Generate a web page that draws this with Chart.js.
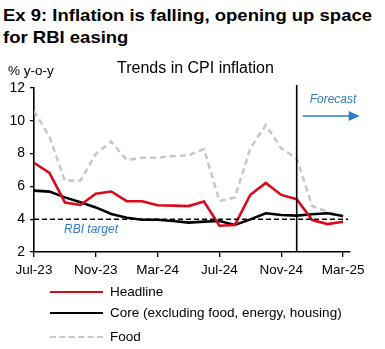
<!DOCTYPE html>
<html>
<head>
<meta charset="utf-8">
<script src="https://cdn.jsdelivr.net/npm/chart.js@4.4.0/dist/chart.umd.min.js"></script>
<style>
  html, body { margin: 0; padding: 0; background: #fff; }
  body { width: 385px; height: 349px; position: relative; overflow: hidden;
         font-family: "Liberation Sans", Arial, sans-serif; color: #000; }
  #heading { position: absolute; left: 3px; top: 4.6px; font-weight: bold;
             font-size: 18.5px; line-height: 23.7px; white-space: nowrap;
             transform: scale(1, 0.9); transform-origin: 0 0; }
  #wrap { position: absolute; left: 0; top: 0; width: 385px; height: 349px; }
  .leg { position: absolute; left: 50px; height: 20px; font-size: 13.5px;
         line-height: 20px; white-space: nowrap; }
  .leg .swatch { position: absolute; left: 0; top: 9px; width: 53px; height: 0; }
  .leg .txt { position: absolute; left: 60px; top: 0; }
</style>
</head>
<body>
<div id="heading">Ex 9: Inflation is falling, opening up space<br>for RBI easing</div>
<div id="wrap"><canvas id="c" width="385" height="349"></canvas></div>
<div id="legend"></div>
<script>
// Monthly CPI inflation, % y-o-y (Jan-25 onward is forecast)
const months = ['Jul-23','Aug-23','Sep-23','Oct-23','Nov-23','Dec-23','Jan-24','Feb-24',
                'Mar-24','Apr-24','May-24','Jun-24','Jul-24','Aug-24','Sep-24','Oct-24',
                'Nov-24','Dec-24','Jan-25','Feb-25','Mar-25'];
const headline = [7.44, 6.83, 5.02, 4.87, 5.55, 5.69, 5.10, 5.09, 4.85, 4.83, 4.80,
                  5.08, 3.60, 3.65, 5.49, 6.21, 5.48, 5.22, 3.95, 3.70, 3.85];
const core = [5.74, 5.68, 5.33, 5.03, 4.72, 4.32, 4.09, 3.97, 3.97, 3.89, 3.79,
              3.85, 3.89, 3.65, 3.99, 4.36, 4.26, 4.22, 4.30, 4.36, 4.20];
const food = [10.6, 9.03, 6.35, 6.35, 7.98, 8.73, 7.61, 7.75, 7.75, 7.85, 7.89,
              8.28, 5.11, 5.33, 8.32, 9.74, 8.32, 7.71, 4.80, 4.46, 4.15];
const yTicks = [2, 4, 6, 8, 10, 12];
const xTickMonths = ['Jul-23','Nov-23','Mar-24','Jul-24','Nov-24','Mar-25'];
const rbiTarget = 4;
const forecastFrom = 'Dec-24';

const FONT = '"Liberation Sans", Arial, sans-serif';
const RED = '#DA0A1E', BLACK = '#000000', GREY = '#C8C8C8', BLUE = '#2F7DC4';

const toPoints = arr => arr.map((v, i) => ({ x: i, y: v }));

const series = [
  { label: 'Headline', data: headline, color: RED, dash: [] },
  { label: 'Core (excluding food, energy, housing)', data: core, color: BLACK, dash: [] },
  { label: 'Food', data: food, color: GREY, dash: [6, 4] }
];

// Annotations: axis caption, chart title, RBI target, forecast divider and arrow
const annotations = {
  id: 'annotations',
  afterDatasetsDraw(chart) {
    const { ctx, chartArea: a, scales: { x, y } } = chart;
    ctx.save();
    // RBI target line
    const ty = y.getPixelForValue(rbiTarget);
    ctx.strokeStyle = '#000'; ctx.lineWidth = 1.6; ctx.setLineDash([5, 3]);
    ctx.beginPath(); ctx.moveTo(a.left, ty); ctx.lineTo(a.right - 2, ty); ctx.stroke();
    ctx.setLineDash([]);
    // forecast divider
    const fx = x.getPixelForValue(months.indexOf(forecastFrom));
    ctx.lineWidth = 1.6;
    ctx.beginPath(); ctx.moveTo(fx, a.top - 3); ctx.lineTo(fx, a.bottom); ctx.stroke();
    // labels
    ctx.fillStyle = BLUE; ctx.font = 'italic 12px ' + FONT;
    ctx.textBaseline = 'middle'; ctx.textAlign = 'left';
    ctx.fillText('RBI target', 64, ty + 10);
    ctx.fillText('Forecast', fx + 13, 100);
    // arrow
    ctx.strokeStyle = BLUE; ctx.lineWidth = 1.6;
    ctx.beginPath(); ctx.moveTo(fx + 6, 116); ctx.lineTo(fx + 54, 116); ctx.stroke();
    ctx.beginPath(); ctx.moveTo(fx + 63, 116); ctx.lineTo(fx + 52, 111); ctx.lineTo(fx + 52, 121);
    ctx.closePath(); ctx.fill();
    // captions
    ctx.fillStyle = '#000';
    ctx.font = '13.5px ' + FONT;
    ctx.fillText('% y-o-y', 8, 71);
    ctx.font = '16px ' + FONT;
    ctx.fillText('Trends in CPI inflation', 117, 69);
    ctx.restore();
  }
};

new Chart(document.getElementById('c'), {
  type: 'line',
  data: {
    datasets: series.map(s => ({
      label: s.label,
      data: toPoints(s.data),
      borderColor: s.color,
      borderWidth: 2.6,
      borderDash: s.dash,
      pointRadius: 0,
      tension: 0,
      fill: false
    }))
  },
  options: {
    responsive: false,
    animation: false,
    events: [],
    layout: { padding: { left: 0, top: 88, right: 35, bottom: 67 } },
    plugins: { legend: { display: false }, tooltip: { enabled: false } },
    scales: {
      x: {
        type: 'linear',
        min: 0,
        max: months.length - 1 + 0.45,
        afterFit: s => { s.height = 30; },
        afterBuildTicks: s => {
          s.ticks = xTickMonths.map(m => ({ value: months.indexOf(m) }));
        },
        ticks: {
          callback: v => months[v],
          font: { family: FONT, size: 13.5 },
          color: '#000',
          padding: 5,
          maxRotation: 0,
          autoSkip: false
        },
        grid: { drawOnChartArea: false, drawTicks: true, tickLength: 5, color: '#000', lineWidth: 1.3 },
        border: { color: '#000', width: 1.6 }
      },
      y: {
        min: 2,
        max: 12,
        afterFit: s => { s.width = 34; },
        afterBuildTicks: s => { s.ticks = yTicks.map(v => ({ value: v })); },
        ticks: {
          font: { family: FONT, size: 14 },
          color: '#000',
          padding: 5
        },
        grid: { drawOnChartArea: false, drawTicks: true, tickLength: 4, color: '#000', lineWidth: 1.3 },
        border: { color: '#000', width: 1.6 }
      }
    }
  },
  plugins: [annotations]
});

// Legend, one series per row
const legend = document.getElementById('legend');
const rowTops = [282, 303, 327];
series.forEach((s, i) => {
  const row = document.createElement('div');
  row.className = 'leg';
  row.style.top = rowTops[i] + 'px';
  const sw = document.createElement('div');
  sw.className = 'swatch';
  sw.style.borderTop = '2.6px ' + (s.dash.length ? 'dashed ' : 'solid ') + s.color;
  const t = document.createElement('div');
  t.className = 'txt';
  t.textContent = s.label;
  row.appendChild(sw); row.appendChild(t);
  legend.appendChild(row);
});
</script>
</body>
</html>
